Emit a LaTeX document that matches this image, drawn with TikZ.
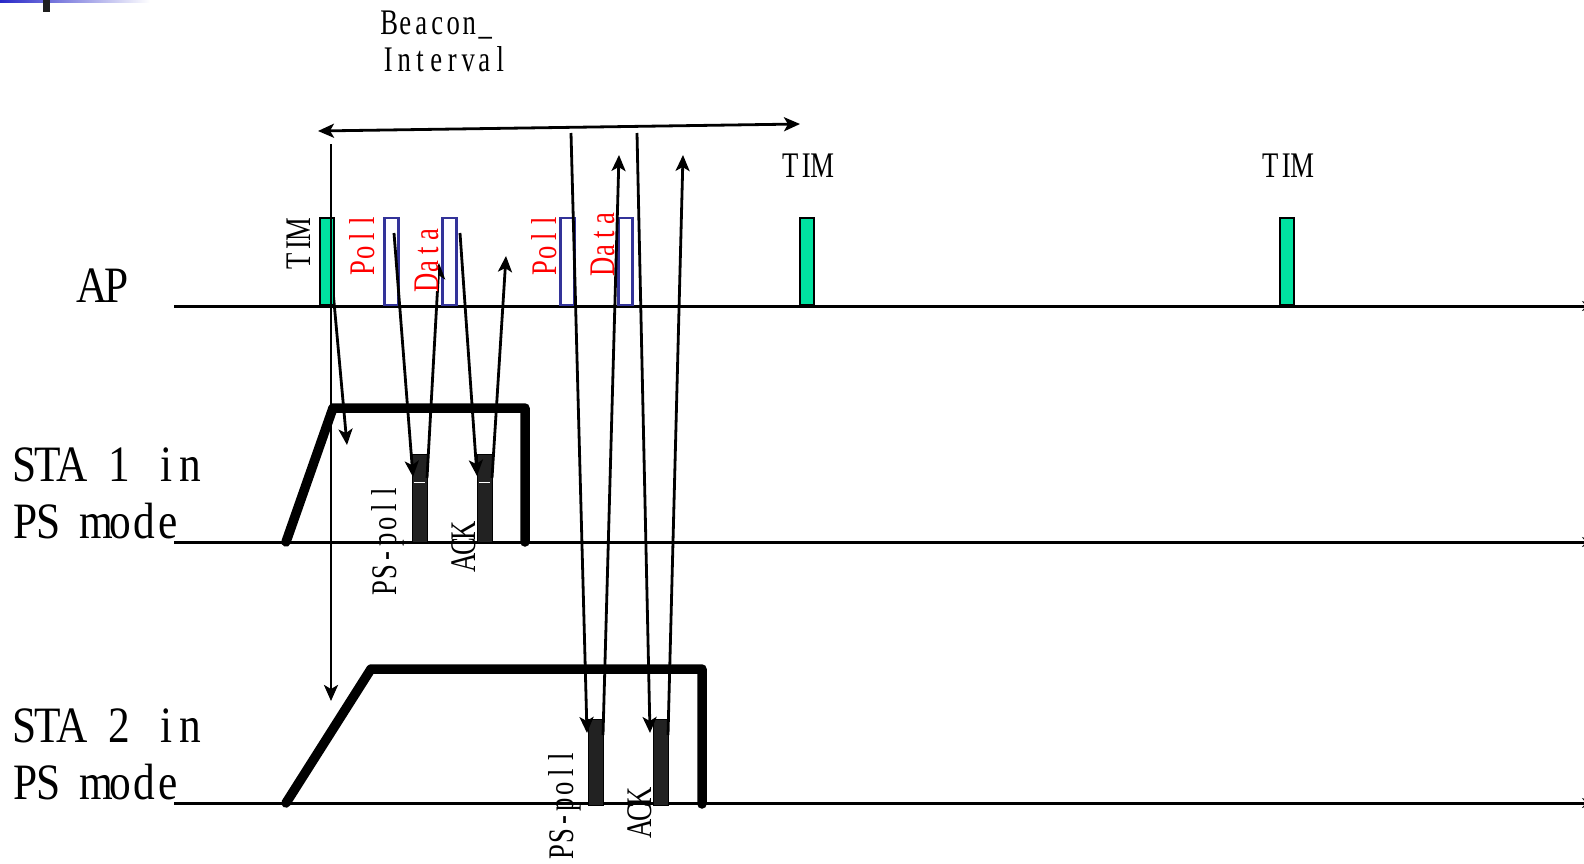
\documentclass[tikz,border=0pt]{standalone}
\usepackage{fontspec}
\setmainfont{Liberation Serif}
\newfontfamily\labfont[FakeStretch=0.85]{Liberation Serif}
\newfontfamily\smallfont[FakeStretch=0.74]{Liberation Serif}
\usetikzlibrary{arrows.meta}
\definecolor{timgreen}{RGB}{0,226,160}
\definecolor{apblue}{RGB}{51,51,153}
\definecolor{barfill}{RGB}{34,34,34}
\definecolor{decoblue}{RGB}{40,40,200}
\makeatletter
\newlength\monocell
\newcommand\mono[2]{\setlength\monocell{#1}\@tfor\mch:=#2\do{\makebox[\monocell][c]{\mch}}}
\makeatother
\tikzset{
  biglab/.style={font=\labfont\fontsize{51}{56}\selectfont, inner sep=0pt, anchor=base west},
  smalllab/.style={font=\smallfont\fontsize{36}{40}\selectfont, inner sep=0pt},
  rotlab/.style={smalllab, rotate=90, anchor=base},
  timbar/.style={draw=black, line width=2pt, fill=timgreen, minimum width=14pt, minimum height=87pt, inner sep=0pt, anchor=south west},
  apframe/.style={draw=apblue, line width=2.5pt, minimum width=14pt, minimum height=87pt, inner sep=0pt, anchor=south west},
  stabar/.style={draw=black, line width=1pt, fill=barfill, minimum width=15pt, inner sep=0pt, anchor=south west},
  msg/.style={line width=2.8pt, -{Stealth[length=16pt,width=14pt,inset=4pt]}},
  msgboth/.style={line width=2.8pt, {Stealth[length=16pt,width=14pt,inset=4pt]}-{Stealth[length=16pt,width=14pt,inset=4pt]}},
  timeline/.style={line width=3pt, -{Stealth[length=12pt,width=10pt]}},
  awake/.style={line width=9.5pt, line cap=round, line join=round},
}
\begin{document}
\begin{tikzpicture}[x=1pt,y=-1pt]
\useasboundingbox (0,0) rectangle (1584,864);
% top-left decoration
\shade[left color=decoblue, middle color=decoblue!60, right color=white] (0,0) rectangle (150,2.5);
\fill[black!88] (43,0) rectangle (50,12);

% timelines
\coordinate (apL) at (174,306);  \coordinate (apR) at (1594,306);
\coordinate (s1L) at (174,542);  \coordinate (s1R) at (1594,542);
\coordinate (s2L) at (174,803);  \coordinate (s2R) at (1594,803);
\draw[timeline] (apL) -- (apR);
\draw[timeline] (s1L) -- (s1R);
\draw[timeline] (s2L) -- (s2R);

% AP frames (hollow)
\node[apframe] (f1) at (383.3,306) {};
\node[apframe] (f2) at (441,306) {};
\node[apframe] (f3) at (559.3,306) {};
\node[apframe] (f4) at (617.3,306) {};

% STA bars
\node[stabar, minimum height=88pt] (b1) at (412,543) {};
\node[stabar, minimum height=88pt] (b2) at (477,543) {};
\node[stabar, minimum height=86pt, minimum width=14.5pt] (b3) at (588,806) {};
\node[stabar, minimum height=86pt, minimum width=14.5pt] (b4) at (653,806) {};

% awake envelopes
\coordinate (e1a) at (286,542); \coordinate (e1b) at (333,408);
\coordinate (e1c) at (525,408); \coordinate (e1d) at (525,542);
\draw[awake] (e1a) -- (e1b) -- (e1c) -- (e1d);
\coordinate (e2a) at (286,803); \coordinate (e2b) at (371,669);
\coordinate (e2c) at (702,669); \coordinate (e2d) at (702,804);
\draw[awake] (e2a) -- (e2b) -- (e2c) -- (e2d);

% message arrows
\coordinate (a3s) at (332,280);  \coordinate (a3e) at (347,445);
\coordinate (a4s) at (394,233);  \coordinate (a4e) at (413,477);
\coordinate (a5s) at (427,478);  \coordinate (a5e) at (439,263);
\coordinate (a6s) at (460,233);  \coordinate (a6e) at (477,476);
\coordinate (a7s) at (492,478);  \coordinate (a7e) at (506,256);
\coordinate (a8s) at (571,133);  \coordinate (a8e) at (587,733);
\coordinate (a9s) at (603,735);  \coordinate (a9e) at (619,155);
\coordinate (a10s) at (637,133); \coordinate (a10e) at (650,733);
\coordinate (a11s) at (668,735); \coordinate (a11e) at (683,155);
\draw[msg] (a3s) -- (a3e);
\draw[msg] (a4s) -- (a4e);
\draw[msg] (a5s) -- (a5e);
\draw[msg] (a6s) -- (a6e);
\draw[msg] (a7s) -- (a7e);
\draw[msg] (a8s) -- (a8e);
\draw[msg] (a9s) -- (a9e);
\draw[msg] (a10s) -- (a10e);
\draw[msg] (a11s) -- (a11e);

% TIM bars
\node[timbar] (t1) at (319.3,306) {};
\node[timbar] (t2) at (799,306) {};
\node[timbar] (t3) at (1279,306) {};

% vertical arrow from first beacon
\coordinate (v0) at (331,144); \coordinate (v1) at (331,701);
\draw[msg] (v0) -- (v1);

% beacon interval
\coordinate (bl) at (318,131); \coordinate (br) at (800,124);
\draw[msgboth] (bl) -- (br);

% white ticks in STA1 bars
\draw[white, line width=1pt] (413.5,482) -- (425,482);
\draw[white, line width=1pt] (478.5,482) -- (490,482);

% big labels
\node[biglab] (ap) at (80,302) {\mono{24pt}{AP}};
\node[biglab] (sta1a) at (12,481) {\mono{23.8pt}{STA~1~in}};
\node[biglab] (sta1b) at (13,538) {\mono{23.8pt}{PS~mode}};
\node[biglab] (sta2a) at (12,742) {\mono{23.8pt}{STA~2~in}};
\node[biglab] (sta2b) at (13,799) {\mono{23.8pt}{PS~mode}};

% small horizontal labels
\node[smalllab, anchor=base west] (beacon) at (381,35) {\mono{16pt}{Beacon\_}};
\node[smalllab, anchor=base west] (interval) at (380,72) {\mono{16pt}{Interval}};
\node[smalllab, anchor=base west] (timlab2) at (782,177) {\mono{16pt}{TIM}};
\node[smalllab, anchor=base west] (timlab3) at (1262,177) {\mono{16pt}{TIM}};

% rotated labels
\node[rotlab] (timlab1) at (310.7,245.5) {\mono{16pt}{TIM}};
\node[rotlab, text=red] (poll1) at (374,244.5) {\mono{16pt}{Poll}};
\node[rotlab, text=red, fill=white] (data1) at (438,258.5) {\mono{16pt}{Data}};
\node[rotlab, text=red] (poll2) at (556.7,244.5) {\mono{16pt}{Poll}};
\node[rotlab, text=red] (data2) at (614.3,242.5) {\mono{16pt}{Data}};
\node[rotlab] (pspoll1) at (396,540) {\mono{16pt}{PS-poll}};
\node[rotlab] (ack1) at (475,547) {\mono{16pt}{ACK}};
\node[rotlab] (pspoll2) at (573,804.5) {\mono{16pt}{PS-poll}};
\node[rotlab] (ack2) at (651.7,812.5) {\mono{16pt}{ACK}};
\end{tikzpicture}
\end{document}
